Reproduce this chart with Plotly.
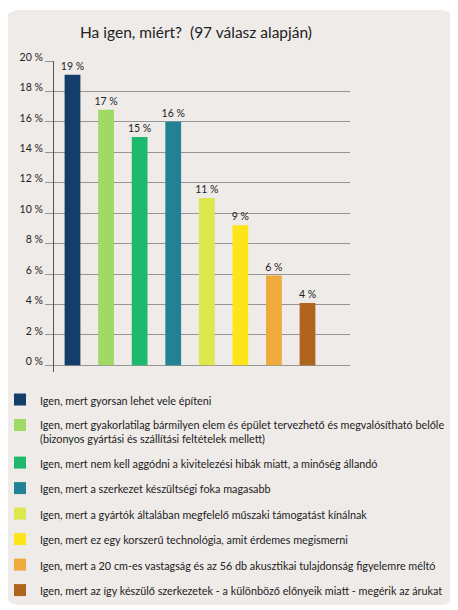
import plotly.graph_objects as go

categories = [
    "Igen, mert gyorsan lehet vele építeni",
    "Igen, mert gyakorlatilag bármilyen elem és épület tervezhető és megvalósítható belőle<br>(bizonyos gyártási és szállítási feltételek mellett)",
    "Igen, mert nem kell aggódni a kivitelezési hibák miatt, a minőség állandó",
    "Igen, mert a szerkezet készültségi foka magasabb",
    "Igen, mert a gyártók általában megfelelő műszaki támogatást kínálnak",
    "Igen, mert ez egy korszerű technológia, amit érdemes megismerni",
    "Igen, mert a 20 cm-es vastagság és az 56 db akusztikai tulajdonság figyelemre méltó",
    "Igen, mert az így készülő szerkezetek - a különböző előnyeik miatt - megérik az árukat",
]
values = [19.1, 16.8, 15.0, 16.0, 11.0, 9.2, 5.9, 4.1]
value_labels = ["19 %", "17 %", "15 %", "16 %", "11 %", "9 %", "6 %", "4 %"]
colors = ["#143d6b", "#a0d964", "#1dba6e", "#218296", "#dde84f", "#fde51a", "#f0a93c", "#b0651e"]
tick_values = [0, 2, 4, 6, 8, 10, 12, 14, 16, 18, 20]
tick_labels = [f"{v} %" for v in tick_values]
title_text = "Ha igen, miért?\u00a0\u00a0(97 válasz alapján)"

# the page body adds an 8px margin, so the figure is sized to fit the window
W, H = 450, 602
L, R, T, B = 46, 108, 53, 238
pw, ph = W - L - R, H - T - B
FONT = "Lato"


def px_x(px):
    return round((px - L) / pw, 5)


def px_y(py):
    return round((H - B - py) / ph, 5)


fig = go.Figure()
for i, (cat, v, lab, col) in enumerate(zip(categories, values, value_labels, colors)):
    fig.add_trace(go.Bar(
        x=[i], y=[v], name=cat, marker=dict(color=col, line=dict(width=0)),
        width=0.47, text=[lab], textposition="outside", cliponaxis=False,
        constraintext="none",
        textfont=dict(family=FONT, size=10.5, color="#222"),
        legendgroup=str(i), hoverinfo="skip",
    ))

# rounded panel
x0, x1, y0, y1, rr = -3, 447, 2, 597, 15
path = (
    f"M {px_x(x0 + rr)},{px_y(y0)} L {px_x(x1 - rr)},{px_y(y0)} "
    f"Q {px_x(x1)},{px_y(y0)} {px_x(x1)},{px_y(y0 + rr)} "
    f"L {px_x(x1)},{px_y(y1 - rr)} Q {px_x(x1)},{px_y(y1)} {px_x(x1 - rr)},{px_y(y1)} "
    f"L {px_x(x0 + rr)},{px_y(y1)} Q {px_x(x0)},{px_y(y1)} {px_x(x0)},{px_y(y1 - rr)} "
    f"L {px_x(x0)},{px_y(y0 + rr)} Q {px_x(x0)},{px_y(y0)} {px_x(x0 + rr)},{px_y(y0)} Z"
)
fig.add_shape(type="path", path=path, xref="paper", yref="paper",
              fillcolor="#eeebe9", line=dict(width=0), layer="below")

fig.update_layout(
    width=W, height=H,
    margin=dict(l=L, r=R, t=T, b=B, pad=0, autoexpand=False),
    paper_bgcolor="white", plot_bgcolor="rgba(0,0,0,0)",
    barmode="overlay", showlegend=True,
    font=dict(family=FONT, color="#222"),
    title=dict(text=title_text, x=188 / W, xanchor="center", xref="container",
               y=1 - 24.5 / H, yanchor="middle", yref="container",
               font=dict(family=FONT, size=15.5, color="#222")),
    xaxis=dict(visible=False, range=[-0.551, 8.266], fixedrange=True),
    yaxis=dict(range=[-0.44, 20], tickvals=tick_values, ticktext=tick_labels,
               showline=True, linecolor="#555", linewidth=1,
               showgrid=True, gridcolor="#959595", gridwidth=1, zeroline=False,
               ticks="outside", ticklen=8, tickcolor="#959595", tickwidth=1,
               ticklabelshift=-4,
               tickfont=dict(family=FONT, size=10.5, color="#222"), fixedrange=True),
    legend=dict(xref="paper", yref="paper", x=px_x(-8), xanchor="left",
                y=px_y(378), yanchor="top", valign="top",
                bgcolor="rgba(0,0,0,0)", borderwidth=0,
                tracegroupgap=6.5, font=dict(family=FONT, size=10.8, color="#222")),
)

fig.write_html("out.html")
